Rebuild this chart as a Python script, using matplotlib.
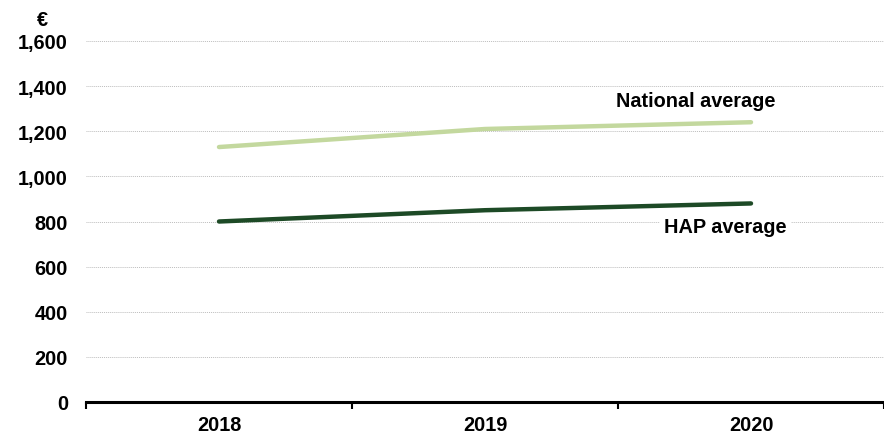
import matplotlib
matplotlib.use("Agg")
import matplotlib.pyplot as plt
from matplotlib.ticker import FuncFormatter, FixedLocator

years = ["2018", "2019", "2020"]
national = [1130, 1210, 1240]
hap = [800, 850, 880]
yticks = [0, 200, 400, 600, 800, 1000, 1200, 1400, 1600]

plt.rcParams['font.family'] = ['Liberation Sans', 'DejaVu Sans']
plt.rcParams['font.weight'] = 'bold'
FS = 14.3

fig = plt.figure(figsize=(8.84, 4.39), dpi=100)
ax = fig.add_axes([86/884, 1-403/439, 1-86/884, (403-42)/439])

x = list(range(len(years)))
ax.plot(x, national, color='#c3d89e', lw=3.2, solid_capstyle='round', zorder=3)
ax.plot(x, hap, color='#1d4a26', lw=3.2, solid_capstyle='round', zorder=3)

ax.set_xlim(-0.5, 2.5)
ax.set_ylim(0, 1600)
ax.set_yticks(yticks)
ax.yaxis.set_major_formatter(FuncFormatter(lambda v, p: f"{int(v):,}"))
ax.grid(axis='y', color='#bdbdbd', linestyle=(0, (1, 1)), linewidth=0.7, zorder=0)
ax.set_axisbelow(True)

ax.set_xticks(x)
ax.set_xticklabels(years)
ax.xaxis.set_minor_locator(FixedLocator([-0.5, 0.5, 1.5, 2.5]))
ax.tick_params(axis='x', which='major', length=0, pad=9.5, labelsize=FS)
ax.tick_params(axis='x', which='minor', length=5, width=1.5, direction='out', color='black')
ax.tick_params(axis='y', length=0, pad=13, labelsize=FS)

for s in ['top', 'right', 'left']:
    ax.spines[s].set_visible(False)
ax.spines['bottom'].set_linewidth(2.2)
ax.spines['bottom'].set_zorder(4)

ax.text(1.792, 1335, "National average", ha='center', va='center', fontsize=FS,
        fontweight='bold', color='black')
ax.text(1.905, 780, "HAP average", ha='center', va='center', fontsize=FS,
        fontweight='bold', color='black',
        bbox=dict(facecolor='white', edgecolor='none', pad=3), zorder=2)

fig.text(37/884, 1-20/439, "€", ha='left', va='center', fontsize=FS, fontweight='bold')

fig.savefig("out.png", dpi=100)
